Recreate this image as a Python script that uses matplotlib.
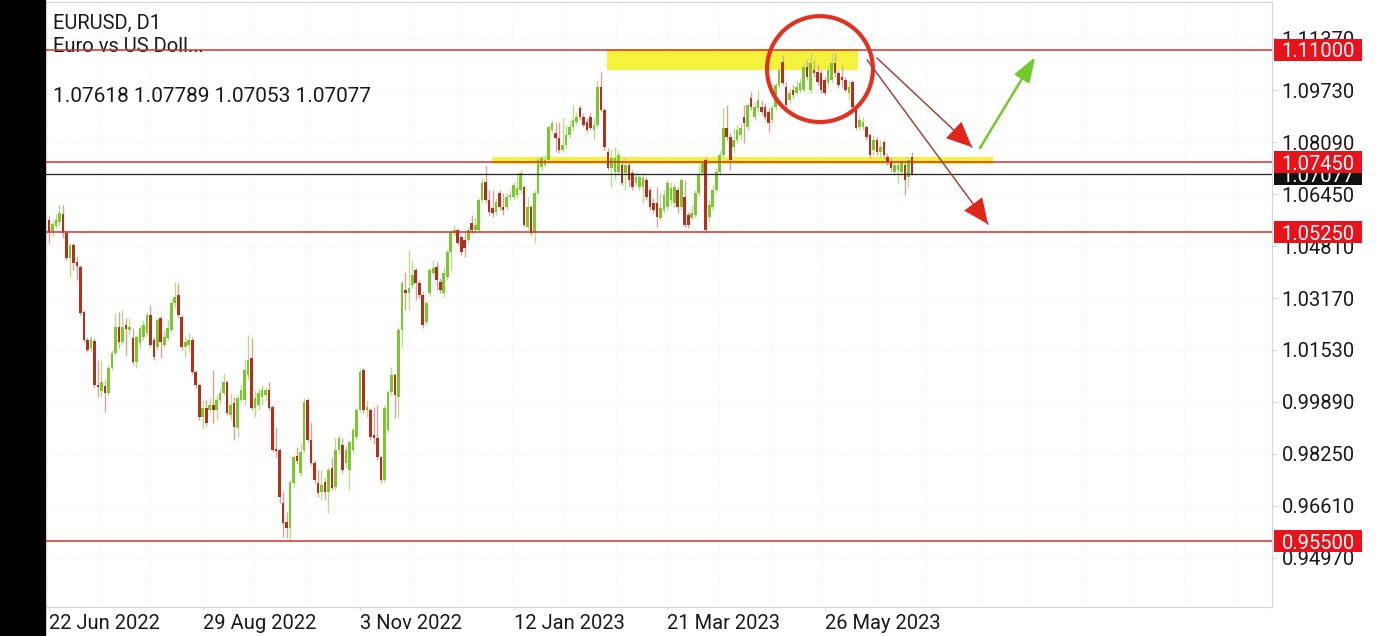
import matplotlib
matplotlib.use("Agg")
import matplotlib.pyplot as plt
import matplotlib.transforms as mtransforms
from matplotlib.patches import Rectangle, Ellipse
import numpy as np

plt.rcParams['font.family'] = ['Roboto', 'DejaVu Sans']

symbol = 'EURUSD, D1'
description = 'Euro vs US Doll...'
last_ohlc = '1.07618 1.07789 1.07053 1.07077'

# daily candles
opens = [1.0563, 1.0529, 1.0544, 1.0557, 1.0582, 1.0523, 1.0443, 1.0484, 1.0431, 1.0415,
         1.0273, 1.0185, 1.0159, 1.0182, 1.0043, 1.0024, 1.0040, 1.0018, 1.0096, 1.0144,
         1.0226, 1.0179, 1.0232, 1.0216, 1.0191, 1.0116, 1.0175, 1.0194, 1.0207, 1.0263,
         1.0185, 1.0163, 1.0254, 1.0169, 1.0191, 1.0216, 1.0302, 1.0327, 1.0257, 1.0163,
         1.0169, 1.0185, 1.0084, 1.0043, 0.9942, 0.9970, 0.9964, 0.9980, 0.9964, 0.9996,
         1.0018, 1.0052, 0.9948, 0.9986, 0.9907, 0.9996, 0.9996, 1.0074, 1.0128, 0.9970,
         0.9980, 1.0005, 1.0011, 1.0027, 0.9974, 0.9841, 0.9838, 0.9671, 0.9611, 0.9592,
         0.9734, 0.9819, 0.9765, 0.9838, 0.9996, 0.9869, 0.9797, 0.9734, 0.9706, 0.9737,
         0.9706, 0.9781, 0.9721, 0.9838, 0.9854, 0.9797, 0.9775, 0.9838, 0.9879, 0.9964,
         1.0090, 0.9964, 0.9964, 0.9885, 0.9876, 0.9816, 0.9743, 0.9901, 1.0021, 1.0074,
         1.0005, 1.0216, 1.0342, 1.0333, 1.0358, 1.0405, 1.0365, 1.0327, 1.0241, 1.0333,
         1.0396, 1.0415, 1.0368, 1.0333, 1.0383, 1.0462, 1.0523, 1.0532, 1.0510, 1.0500,
         1.0500, 1.0554, 1.0532, 1.0532, 1.0626, 1.0683, 1.0626, 1.0601, 1.0588, 1.0648,
         1.0604, 1.0604, 1.0636, 1.0636, 1.0642, 1.0658, 1.0667, 1.0541, 1.0604, 1.0523,
         1.0648, 1.0730, 1.0737, 1.0752, 1.0847, 1.0838, 1.0822, 1.0784, 1.0800, 1.0831,
         1.0857, 1.0872, 1.0917, 1.0888, 1.0872, 1.0888, 1.0847, 1.0863, 1.0983, 1.0910,
         1.0778, 1.0727, 1.0715, 1.0715, 1.0737, 1.0711, 1.0737, 1.0711, 1.0680, 1.0667,
         1.0667, 1.0689, 1.0658, 1.0617, 1.0617, 1.0570, 1.0595, 1.0604, 1.0626, 1.0617,
         1.0658, 1.0604, 1.0636, 1.0579, 1.0570, 1.0579, 1.0648, 1.0711, 1.0752, 1.0573,
         1.0604, 1.0658, 1.0715, 1.0768, 1.0853, 1.0825, 1.0794, 1.0816, 1.0831, 1.0888,
         1.0857, 1.0948, 1.0888, 1.0917, 1.0920, 1.0920, 1.0904, 1.0879, 1.0920, 1.0989,
         1.1061, 1.0983, 1.0942, 1.0973, 1.0964, 1.0973, 1.0973, 1.1046, 1.0973, 1.1036,
         1.1030, 1.1027, 1.1005, 1.0995, 1.1005, 1.1058, 1.1027, 1.1014, 1.1005, 1.0964,
         1.0998, 1.0920, 1.0857, 1.0857, 1.0857, 1.0831, 1.0784, 1.0816, 1.0778, 1.0809,
         1.0762, 1.0746, 1.0715, 1.0721, 1.0715, 1.0737, 1.0699, 1.07618]
highs = [1.0576, 1.0563, 1.0582, 1.0613, 1.0610, 1.0529, 1.0491, 1.0491, 1.0449, 1.0421,
         1.0279, 1.0194, 1.0197, 1.0191, 1.0122, 1.0122, 1.0059, 1.0106, 1.0153, 1.0270,
         1.0273, 1.0279, 1.0254, 1.0254, 1.0222, 1.0200, 1.0232, 1.0248, 1.0273, 1.0295,
         1.0194, 1.0254, 1.0260, 1.0216, 1.0248, 1.0311, 1.0368, 1.0365, 1.0263, 1.0197,
         1.0207, 1.0194, 1.0090, 1.0049, 0.9996, 0.9996, 1.0002, 1.0090, 1.0011, 1.0033,
         1.0081, 1.0059, 1.0018, 1.0005, 1.0011, 1.0043, 1.0122, 1.0200, 1.0191, 1.0027,
         1.0033, 1.0043, 1.0036, 1.0052, 0.9980, 0.9910, 0.9844, 0.9706, 0.9643, 0.9743,
         0.9822, 0.9847, 0.9860, 1.0002, 1.0002, 0.9926, 0.9806, 0.9775, 0.9775, 0.9750,
         0.9784, 0.9816, 0.9876, 0.9885, 0.9876, 0.9854, 0.9869, 0.9910, 0.9974, 1.0096,
         1.0096, 0.9996, 0.9970, 0.9974, 0.9980, 0.9822, 0.9980, 1.0027, 1.0100, 1.0081,
         1.0226, 1.0374, 1.0399, 1.0468, 1.0437, 1.0412, 1.0374, 1.0336, 1.0311, 1.0412,
         1.0437, 1.0431, 1.0380, 1.0415, 1.0468, 1.0532, 1.0548, 1.0538, 1.0516, 1.0523,
         1.0538, 1.0579, 1.0570, 1.0632, 1.0696, 1.0737, 1.0658, 1.0658, 1.0632, 1.0658,
         1.0648, 1.0648, 1.0658, 1.0683, 1.0711, 1.0721, 1.0674, 1.0636, 1.0610, 1.0658,
         1.0762, 1.0768, 1.0768, 1.0863, 1.0879, 1.0872, 1.0872, 1.0885, 1.0863, 1.0879,
         1.0926, 1.0904, 1.0926, 1.0901, 1.0885, 1.0901, 1.0885, 1.1005, 1.1030, 1.0917,
         1.0790, 1.0784, 1.0794, 1.0784, 1.0752, 1.0762, 1.0743, 1.0721, 1.0715, 1.0705,
         1.0711, 1.0699, 1.0667, 1.0632, 1.0667, 1.0648, 1.0658, 1.0689, 1.0683, 1.0680,
         1.0667, 1.0696, 1.0689, 1.0588, 1.0610, 1.0658, 1.0737, 1.0752, 1.0762, 1.0626,
         1.0674, 1.0727, 1.0784, 1.0917, 1.0926, 1.0838, 1.0853, 1.0863, 1.0869, 1.0926,
         1.0932, 1.0967, 1.0936, 1.0973, 1.0942, 1.0932, 1.0917, 1.0926, 1.0995, 1.1043,
         1.1083, 1.0998, 1.0979, 1.0989, 1.1005, 1.1011, 1.1058, 1.1068, 1.1093, 1.1068,
         1.1052, 1.1036, 1.1014, 1.1052, 1.1090, 1.1090, 1.1036, 1.1052, 1.1014, 1.1005,
         1.1005, 1.0926, 1.0895, 1.0888, 1.0863, 1.0838, 1.0831, 1.0825, 1.0816, 1.0816,
         1.0775, 1.0762, 1.0752, 1.0752, 1.0759, 1.0743, 1.0762, 1.07789]
lows = [1.0491, 1.0513, 1.0538, 1.0544, 1.0507, 1.0437, 1.0383, 1.0405, 1.0374, 1.0263,
        1.0179, 1.0147, 1.0147, 1.0036, 1.0005, 1.0005, 0.9958, 1.0011, 1.0090, 1.0137,
        1.0159, 1.0169, 1.0137, 1.0200, 1.0109, 1.0096, 1.0159, 1.0185, 1.0197, 1.0163,
        1.0122, 1.0153, 1.0128, 1.0163, 1.0185, 1.0210, 1.0286, 1.0254, 1.0153, 1.0131,
        1.0147, 1.0077, 1.0033, 0.9932, 0.9907, 0.9913, 0.9958, 0.9923, 0.9932, 0.9983,
        1.0011, 0.9948, 0.9932, 0.9869, 0.9879, 0.9989, 0.9980, 1.0059, 0.9964, 0.9942,
        0.9964, 0.9980, 0.9996, 0.9964, 0.9832, 0.9816, 0.9671, 0.9564, 0.9561, 0.9548,
        0.9721, 0.9793, 0.9756, 0.9832, 0.9863, 0.9790, 0.9734, 0.9690, 0.9680, 0.9680,
        0.9639, 0.9712, 0.9712, 0.9828, 0.9765, 0.9781, 0.9712, 0.9828, 0.9869, 0.9958,
        0.9955, 0.9942, 0.9869, 0.9857, 0.9806, 0.9734, 0.9737, 0.9891, 1.0011, 0.9939,
        0.9942, 1.0163, 1.0279, 1.0279, 1.0349, 1.0311, 1.0317, 1.0222, 1.0232, 1.0324,
        1.0390, 1.0342, 1.0333, 1.0320, 1.0374, 1.0405, 1.0513, 1.0484, 1.0453, 1.0446,
        1.0491, 1.0523, 1.0523, 1.0526, 1.0617, 1.0617, 1.0579, 1.0573, 1.0579, 1.0595,
        1.0579, 1.0595, 1.0626, 1.0626, 1.0632, 1.0648, 1.0541, 1.0532, 1.0516, 1.0491,
        1.0642, 1.0721, 1.0730, 1.0746, 1.0841, 1.0778, 1.0775, 1.0778, 1.0790, 1.0822,
        1.0847, 1.0863, 1.0879, 1.0857, 1.0841, 1.0847, 1.0816, 1.0857, 1.0904, 1.0784,
        1.0721, 1.0667, 1.0689, 1.0705, 1.0674, 1.0658, 1.0667, 1.0658, 1.0670, 1.0658,
        1.0617, 1.0626, 1.0595, 1.0586, 1.0541, 1.0563, 1.0586, 1.0595, 1.0610, 1.0604,
        1.0586, 1.0595, 1.0541, 1.0538, 1.0563, 1.0570, 1.0639, 1.0702, 1.0523, 1.0557,
        1.0595, 1.0648, 1.0705, 1.0759, 1.0816, 1.0721, 1.0775, 1.0806, 1.0816, 1.0806,
        1.0847, 1.0910, 1.0879, 1.0904, 1.0895, 1.0879, 1.0841, 1.0869, 1.0910, 1.0979,
        1.0989, 1.0920, 1.0932, 1.0948, 1.0957, 1.0964, 1.0967, 1.1005, 1.0964, 1.1014,
        1.0989, 1.0964, 1.0957, 1.0983, 1.0995, 1.1014, 1.0979, 1.0983, 1.0967, 1.0942,
        1.0910, 1.0847, 1.0847, 1.0847, 1.0816, 1.0759, 1.0768, 1.0768, 1.0762, 1.0759,
        1.0737, 1.0715, 1.0705, 1.0680, 1.0705, 1.0642, 1.0667, 1.07053]
closes = [1.0526, 1.0550, 1.0563, 1.0586, 1.0523, 1.0443, 1.0484, 1.0428, 1.0418, 1.0270,
          1.0185, 1.0153, 1.0188, 1.0043, 1.0036, 1.0052, 1.0018, 1.0096, 1.0144, 1.0226,
          1.0179, 1.0226, 1.0219, 1.0226, 1.0116, 1.0194, 1.0222, 1.0232, 1.0263, 1.0169,
          1.0131, 1.0248, 1.0179, 1.0194, 1.0222, 1.0302, 1.0320, 1.0263, 1.0163, 1.0179,
          1.0185, 1.0084, 1.0043, 0.9942, 0.9970, 0.9923, 0.9980, 0.9964, 0.9996, 1.0018,
          1.0052, 0.9955, 0.9980, 0.9910, 1.0002, 1.0027, 1.0090, 1.0122, 0.9970, 1.0002,
          1.0018, 1.0027, 1.0027, 0.9970, 0.9838, 0.9835, 0.9690, 0.9608, 0.9592, 0.9737,
          0.9816, 0.9803, 0.9832, 0.9989, 0.9869, 0.9797, 0.9743, 0.9702, 0.9728, 0.9706,
          0.9775, 0.9718, 0.9838, 0.9876, 0.9775, 0.9838, 0.9863, 0.9901, 0.9964, 1.0084,
          0.9964, 0.9974, 0.9879, 0.9876, 0.9816, 0.9743, 0.9970, 1.0021, 1.0074, 1.0011,
          1.0216, 1.0365, 1.0333, 1.0349, 1.0390, 1.0365, 1.0327, 1.0232, 1.0302, 1.0405,
          1.0412, 1.0374, 1.0342, 1.0396, 1.0462, 1.0526, 1.0532, 1.0491, 1.0462, 1.0475,
          1.0532, 1.0532, 1.0548, 1.0626, 1.0680, 1.0626, 1.0588, 1.0586, 1.0620, 1.0604,
          1.0595, 1.0636, 1.0642, 1.0674, 1.0664, 1.0711, 1.0548, 1.0604, 1.0523, 1.0648,
          1.0752, 1.0759, 1.0752, 1.0857, 1.0869, 1.0822, 1.0784, 1.0800, 1.0831, 1.0857,
          1.0879, 1.0888, 1.0888, 1.0863, 1.0847, 1.0853, 1.0863, 1.0983, 1.0910, 1.0794,
          1.0727, 1.0759, 1.0759, 1.0768, 1.0680, 1.0737, 1.0689, 1.0667, 1.0699, 1.0699,
          1.0696, 1.0636, 1.0604, 1.0595, 1.0573, 1.0601, 1.0642, 1.0680, 1.0664, 1.0667,
          1.0604, 1.0689, 1.0548, 1.0548, 1.0586, 1.0648, 1.0705, 1.0743, 1.0532, 1.0610,
          1.0658, 1.0715, 1.0768, 1.0853, 1.0825, 1.0752, 1.0816, 1.0847, 1.0853, 1.0869,
          1.0926, 1.0920, 1.0920, 1.0942, 1.0904, 1.0888, 1.0869, 1.0917, 1.0989, 1.1036,
          1.0995, 1.0926, 1.0964, 1.0957, 1.0983, 1.0995, 1.1046, 1.1014, 1.1058, 1.1027,
          1.0998, 1.0973, 1.0964, 1.1036, 1.1058, 1.1027, 1.0989, 1.1005, 1.0973, 1.0983,
          1.0920, 1.0853, 1.0879, 1.0872, 1.0825, 1.0768, 1.0816, 1.0778, 1.0794, 1.0768,
          1.0746, 1.0727, 1.0737, 1.0737, 1.0746, 1.0689, 1.0752, 1.07077]

date_labels = ['22 Jun 2022', '29 Aug 2022', '3 Nov 2022', '12 Jan 2023', '21 Mar 2023', '26 May 2023']
date_ticks = [0, 44, 89, 133, 177, 222]
price_ticks = [1.11370, 1.09730, 1.08090, 1.06450, 1.04810, 1.03170,
               1.01530, 0.99890, 0.98250, 0.96610, 0.94970]
levels = [1.11000, 1.07450, 1.05250, 0.95500]
last_price = 1.07077

W, H = 1379, 636
fig = plt.figure(figsize=(W / 100, H / 100), dpi=100)
fig.patches.append(Rectangle((0, 0), 45 / W, 1, transform=fig.transFigure,
                             color='black', zorder=0))
ax = fig.add_axes([45 / W, 29 / H, 1227 / W, 605 / H])
ax.set_xlim(-1.15, 350.1)
ax.set_ylim(0.93424, 1.12506)

o = np.array(opens)
h = np.array(highs)
l = np.array(lows)
c = np.array(closes)
x = np.arange(len(o))
up = c >= o

# grid
for gx in np.arange(-15.4, 350, 14.8):
    ax.axvline(gx, color='#ededed', lw=0.6, ls=':', zorder=0)
for gy in price_ticks:
    ax.axhline(gy, color='#ededed', lw=0.6, ls=':', zorder=0)

# yellow zones
ax.add_patch(Rectangle((159.7, 1.1036), 71.9, 0.0066, fc='#f3f33c', ec='none', zorder=1))
ax.add_patch(Rectangle((126.8, 1.0740), 143.5, 0.0023, fc='#f3f33c', ec='none', zorder=1))

# candles
ax.vlines(x[up], l[up], h[up], color='#b6de8a', lw=1.0, zorder=2)
ax.vlines(x[~up], l[~up], h[~up], color='#d7a29a', lw=1.0, zorder=2)
body_lo = np.minimum(o, c)
body_h = np.maximum(np.abs(c - o), 0.0004)
ax.bar(x[up], body_h[up], bottom=body_lo[up], width=0.75, color='#7cc62f', lw=0, zorder=3)
ax.bar(x[~up], body_h[~up], bottom=body_lo[~up], width=0.75, color='#b0311d', lw=0, zorder=3)

# levels
for lv in levels:
    ax.axhline(lv, color='#d8302a', lw=1.1, zorder=4)
ax.axhline(last_price, color='#222222', lw=0.9, zorder=4)

# circle and arrows
ax.add_patch(Ellipse((220.7, 1.1039), 30.3, 0.0334, fill=False, ec='#e3311f', lw=3, zorder=5))
for start, tip in [((237.0, 1.1074), (264.2, 1.0793)), ((234.2, 1.1068), (268.8, 1.0550))]:
    ax.annotate('', xy=tip, xytext=start,
                arrowprops=dict(arrowstyle='-', color='#a5453b', lw=1.1,
                                shrinkA=0, shrinkB=0), zorder=5)
    ax.annotate('', xy=tip, xytext=start,
                arrowprops=dict(arrowstyle='-|>,head_length=1.0,head_width=0.45',
                                mutation_scale=18, fc='#e0261a', ec='none', lw=0,
                                shrinkA=0, shrinkB=0), zorder=5)
ax.annotate('', xy=(282.3, 1.1077), xytext=(266.5, 1.0790),
            arrowprops=dict(arrowstyle='-|>,head_length=1.0,head_width=0.35',
                            mutation_scale=15, color='#6fcb2c', lw=1.8,
                            shrinkA=0, shrinkB=0), zorder=5)

# axes styling
ax.spines['left'].set_visible(False)
for side in ['top', 'right', 'bottom']:
    ax.spines[side].set_color('#d6d6d6')
    ax.spines[side].set_linewidth(0.8)
ax.yaxis.tick_right()
ax.set_yticks(price_ticks)
ax.set_yticklabels([f'{p:.5f}' for p in price_ticks])
ax.set_xticks(date_ticks)
ax.set_xticklabels(date_labels, ha='left')
ax.tick_params(axis='y', length=3, pad=4, labelsize=14.5, color='#cccccc', labelcolor='#1a1a1a')
ax.tick_params(axis='x', length=2, pad=3, labelsize=14.5, color='#dddddd', labelcolor='#1a1a1a')

# price boxes on the right scale
trans = mtransforms.blended_transform_factory(ax.transAxes, ax.transData)
half = 0.00347
ax.add_patch(Rectangle((1.0016, last_price - half), 0.0717, 2 * half, transform=trans,
                       fc='#111111', ec='none', clip_on=False, zorder=6))
ax.text(1.0375, last_price, f'{last_price:.5f}', transform=trans, ha='center',
        va='center_baseline', color='white', fontsize=14.5, zorder=7, clip_on=False)
for lv in levels:
    ax.add_patch(Rectangle((1.0016, lv - half), 0.0717, 2 * half, transform=trans,
                           fc='#e8121b', ec='none', clip_on=False, zorder=8))
    ax.text(1.0375, lv, f'{lv:.5f}', transform=trans, ha='center', va='center_baseline',
            color='white', fontsize=14.5, zorder=9, clip_on=False)

# header text
ax.text(53 / W, 1 - 23 / H, symbol, transform=fig.transFigure, va='center',
        fontsize=14.5, color='#1a1a1a', zorder=2)
ax.text(53 / W, 1 - 47 / H, description, transform=fig.transFigure, va='center',
        fontsize=14.5, color='#1a1a1a', zorder=2)
ax.text(53 / W, 1 - 96 / H, last_ohlc, transform=fig.transFigure, va='center',
        fontsize=15, color='#1a1a1a', zorder=2)

fig.savefig('out.png', dpi=100)
